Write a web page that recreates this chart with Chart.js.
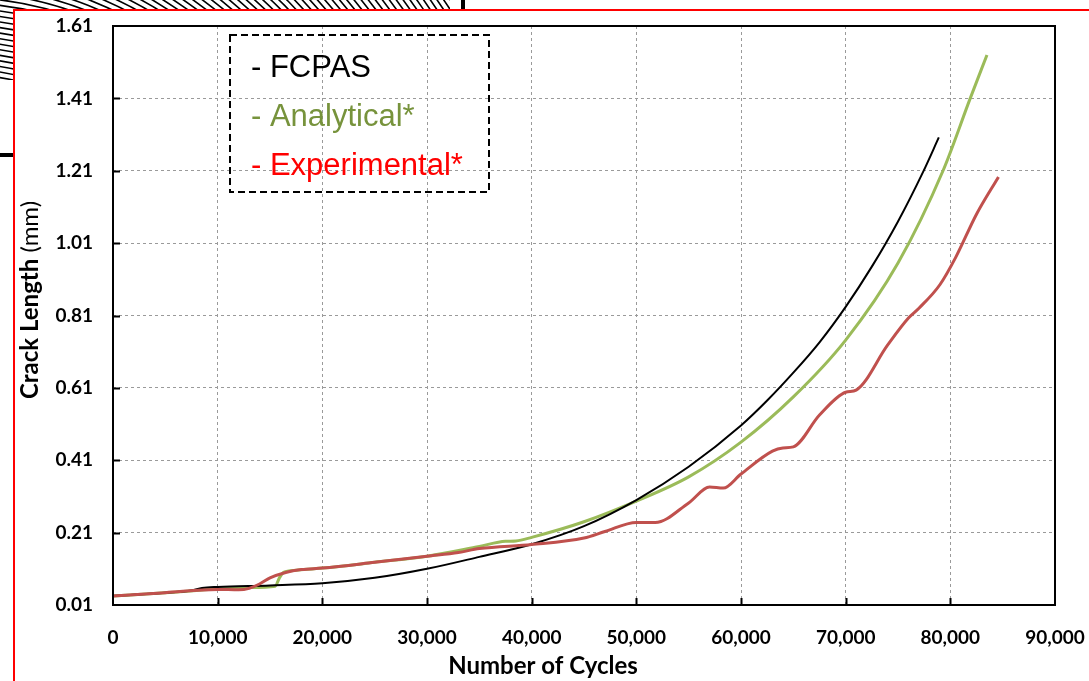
<!DOCTYPE html>
<html>
<head>
<meta charset="utf-8">
<script src="https://cdn.jsdelivr.net/npm/chart.js@4.4.1/dist/chart.umd.min.js"></script>
<style>
  html, body { margin: 0; padding: 0; background: #ffffff; }
  #wrap { width: 1089px; height: 681px; position: relative; }
</style>
</head>
<body>
<div id="wrap"><canvas id="c" width="1089" height="681"></canvas></div>
<script>
// ---- data ----
const seriesNames = ['- FCPAS', '- Analytical*', '- Experimental*'];

const cycFCPAS = [0, 5000, 7500, 8500, 10000, 15000, 20000, 25000, 30000, 35000, 40000, 45000, 50000, 55000, 60000, 62500, 65000, 67500, 70000, 72500, 75000, 77400, 78900];
const lenFCPAS = [0.035, 0.044, 0.050, 0.057, 0.060, 0.064, 0.070, 0.085, 0.110, 0.143, 0.178, 0.228, 0.300, 0.392, 0.506, 0.575, 0.652, 0.736, 0.834, 0.945, 1.07, 1.207, 1.302];

const cycAnalytical = [0, 5000, 10000, 13000, 15500, 15900, 16300, 17500, 20000, 25000, 30000, 35000, 37500, 38500, 40000, 45000, 50000, 55000, 60000, 65000, 70000, 75000, 79300, 81900, 83500];
const lenAnalytical = [0.035, 0.044, 0.054, 0.058, 0.062, 0.085, 0.100, 0.106, 0.112, 0.128, 0.145, 0.172, 0.186, 0.187, 0.197, 0.240, 0.297, 0.364, 0.460, 0.585, 0.742, 0.955, 1.21, 1.41, 1.53];

const cycExperimental = [0, 5000, 10000, 12000, 13000, 14000, 15000, 16500, 18000, 20000, 25000, 30000, 33000, 35000, 40000, 45000, 47000, 50000, 51800, 55000, 57000, 58300, 60000, 63000, 64000, 65000, 67500, 70000, 71000, 74000, 76000, 77000, 79000, 80500, 82500, 84600];
const lenExperimental = [0.035, 0.044, 0.053, 0.052, 0.056, 0.068, 0.085, 0.100, 0.108, 0.112, 0.128, 0.145, 0.155, 0.166, 0.177, 0.195, 0.213, 0.238, 0.238, 0.292, 0.336, 0.333, 0.372, 0.435, 0.444, 0.447, 0.535, 0.598, 0.604, 0.728, 0.803, 0.830, 0.895, 0.970, 1.090, 1.193];

const xTickValues = [0, 10000, 20000, 30000, 40000, 50000, 60000, 70000, 80000, 90000];
const yTickValues = [0.01, 0.21, 0.41, 0.61, 0.81, 1.01, 1.21, 1.41, 1.61];

const xTitle = 'Number of Cycles';
const yTitleBold = 'Crack Length';
const yTitleNormal = ' (mm)';

// ---- helpers ----
const pts = (xs, ys) => xs.map((x, i) => ({ x: x, y: ys[i] }));
const colors = ['#000000', '#9BBB59', '#C0504D'];
const textColors = ['#000000', '#77933C', '#FF0000'];

const decorPlugin = {
  id: 'decor',
  beforeDraw(chart) {
    const ctx = chart.ctx;
    ctx.save();
    ctx.fillStyle = '#ffffff';
    ctx.fillRect(0, 0, chart.width, chart.height);
    // concentric arcs in the top-left corner (slide background)
    ctx.save();
    ctx.beginPath();
    ctx.rect(0, 0, 450, 9);
    ctx.rect(0, 0, 13, 80);
    ctx.clip();
    ctx.strokeStyle = '#000000';
    ctx.lineWidth = 1.6;
    for (let r = 250; r < 620; r += 5.5) {
      ctx.beginPath();
      ctx.arc(-40, 330, r, 0, Math.PI * 2);
      ctx.stroke();
    }
    ctx.restore();
    // red frame
    ctx.strokeStyle = '#FF0000';
    ctx.lineWidth = 2;
    ctx.beginPath();
    ctx.moveTo(14, 681);
    ctx.lineTo(14, 10);
    ctx.lineTo(1089, 10);
    ctx.stroke();
    // black bars
    ctx.fillStyle = '#000000';
    ctx.fillRect(461, 0, 4, 9);
    ctx.fillRect(0, 153, 13, 4);
    ctx.restore();
  },
  afterDatasetsDraw(chart) {
    const ctx = chart.ctx;
    const a = chart.chartArea;
    const xs = chart.scales.x, ys = chart.scales.y;
    ctx.save();
    // frame
    ctx.strokeStyle = '#000000';
    ctx.lineWidth = 2;
    ctx.strokeRect(a.left, a.top, a.right - a.left, a.bottom - a.top);
    // inward tick marks
    ctx.beginPath();
    xTickValues.slice(1, -1).forEach(v => {
      const px = Math.round(xs.getPixelForValue(v)) + 0.5;
      ctx.moveTo(px, a.bottom);
      ctx.lineTo(px, a.bottom - 7);
    });
    yTickValues.slice(1, -1).forEach(v => {
      const py = Math.round(ys.getPixelForValue(v)) + 0.5;
      ctx.moveTo(a.left, py);
      ctx.lineTo(a.left + 7, py);
    });
    ctx.lineWidth = 2;
    ctx.stroke();

    // legend box
    ctx.setLineDash([7, 4]);
    ctx.lineWidth = 2;
    ctx.strokeRect(230, 35, 259, 157);
    ctx.setLineDash([]);
    ctx.font = '31px "Liberation Sans", Arial, sans-serif';
    ctx.textBaseline = 'alphabetic';
    ctx.textAlign = 'left';
    const baselines = [77, 126, 175];
    seriesNames.forEach((n, i) => {
      ctx.fillStyle = textColors[i];
      ctx.fillText(n, 251, baselines[i]);
    });

    // axis titles
    ctx.fillStyle = '#000000';
    ctx.font = 'bold 24px Lato, "Open Sans", sans-serif';
    ctx.textAlign = 'center';
    ctx.textBaseline = 'middle';
    ctx.fillText(xTitle, 543, 666);

    ctx.translate(30, 300);
    ctx.rotate(-Math.PI / 2);
    const fb = 'bold 24px Lato, "Open Sans", sans-serif';
    const fn = '24px Lato, "Open Sans", sans-serif';
    ctx.font = fb; const wb = ctx.measureText(yTitleBold).width;
    ctx.font = fn; const wn = ctx.measureText(yTitleNormal).width;
    const start = -(wb + wn) / 2;
    ctx.textAlign = 'left';
    ctx.font = fb; ctx.fillText(yTitleBold, start, 0);
    ctx.font = fn; ctx.fillText(yTitleNormal, start + wb, 0);
    ctx.restore();
  }
};

const mk = (label, xs, ys, i, w) => ({
  label: label,
  data: pts(xs, ys),
  borderColor: colors[i],
  backgroundColor: colors[i],
  borderWidth: w,
  pointRadius: 0,
  fill: false,
  cubicInterpolationMode: 'monotone',
  tension: 0.4
});

new Chart(document.getElementById('c'), {
  type: 'line',
  data: {
    datasets: [
      mk(seriesNames[2], cycExperimental, lenExperimental, 2, 3),
      mk(seriesNames[0], cycFCPAS, lenFCPAS, 0, 2),
      mk(seriesNames[1], cycAnalytical, lenAnalytical, 1, 3)
    ]
  },
  options: {
    responsive: false,
    animation: false,
    devicePixelRatio: 1,
    layout: { padding: { top: 26, right: 34, bottom: 0, left: 0 } },
    plugins: { legend: { display: false }, tooltip: { enabled: false }, title: { display: false } },
    scales: {
      x: {
        type: 'linear',
        min: 0,
        max: 90000,
        afterBuildTicks: s => { s.ticks = xTickValues.map(v => ({ value: v })); },
        afterFit: s => { s.height = 76; s.paddingLeft = 0; s.paddingRight = 0; },
        grid: { color: '#9a9a9a', lineWidth: 1, drawTicks: false },
        border: { display: false, dash: [3, 3] },
        ticks: {
          padding: 21,
          maxRotation: 0,
          autoSkip: false,
          color: '#000000',
          font: { family: 'Lato, "Open Sans", sans-serif', weight: 'bold', size: 19 },
          callback: v => Number(v).toLocaleString('en-US')
        }
      },
      y: {
        type: 'linear',
        min: 0.01,
        max: 1.61,
        afterBuildTicks: s => { s.ticks = yTickValues.map(v => ({ value: v })); },
        afterFit: s => { s.width = 113; s.paddingTop = 0; s.paddingBottom = 0; },
        grid: { color: '#9a9a9a', lineWidth: 1, drawTicks: false },
        border: { display: false, dash: [3, 3] },
        ticks: {
          padding: 20,
          autoSkip: false,
          color: '#000000',
          font: { family: 'Lato, "Open Sans", sans-serif', weight: 'bold', size: 19 },
          callback: v => Number(v).toFixed(2)
        }
      }
    }
  },
  plugins: [decorPlugin]
});
</script>
</body>
</html>
